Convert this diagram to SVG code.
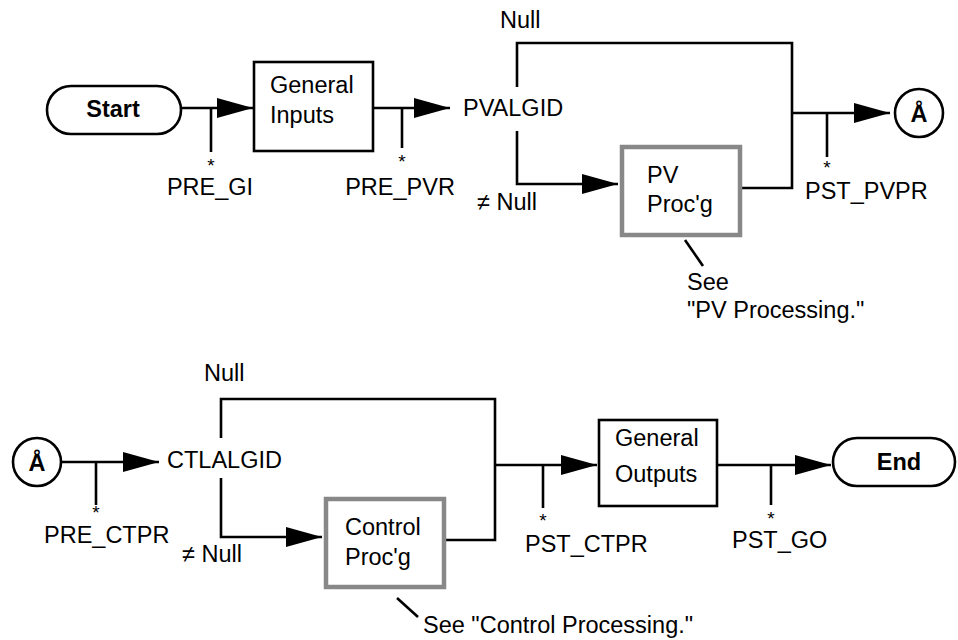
<svg xmlns="http://www.w3.org/2000/svg" width="958" height="640" viewBox="0 0 958 640">
<defs>
<style>
text{font-family:"Liberation Sans",Arial,Helvetica,sans-serif;font-size:23.5px;fill:#000}
.b{font-weight:bold}
.m{text-anchor:middle}
.ast{font-size:19px;text-anchor:middle}
.ln{fill:none;stroke:#000;stroke-width:2.6}
.box{fill:#fff;stroke:#000;stroke-width:2.6}
.gbox{fill:#fff;stroke:#888;stroke-width:4.5}
.pill{fill:#fff;stroke:#000;stroke-width:2.6}
</style>
<marker id="ah" markerUnits="userSpaceOnUse" markerWidth="37" markerHeight="22" refX="36" refY="11" orient="auto">
<path d="M0,1 L36,11 L0,21 z" fill="#000"/>
</marker>
</defs>
<rect width="958" height="640" fill="#fff"/>

<g id="connectors">
<path class="ln" d="M181,108 H253" marker-end="url(#ah)"/>
<path class="ln" d="M211,108 V152"/>
<path class="ln" d="M373,108 H450" marker-end="url(#ah)"/>
<path class="ln" d="M402,108 V148"/>
<path class="ln" d="M517,87 V43 H792 V188 H742"/>
<path class="ln" d="M517,131 V184 H618" marker-end="url(#ah)"/>
<path class="ln" d="M792,113 H890" marker-end="url(#ah)"/>
<path class="ln" d="M827,113 V157"/>
<path class="ln" d="M685,240 L703,266"/>

<path class="ln" d="M61,462 H159" marker-end="url(#ah)"/>
<path class="ln" d="M96,462 V505"/>
<path class="ln" d="M221,438 V399 H495 V540 H446"/>
<path class="ln" d="M221,478 V537 H322" marker-end="url(#ah)"/>
<path class="ln" d="M495,465 H597" marker-end="url(#ah)"/>
<path class="ln" d="M543,465 V508"/>
<path class="ln" d="M717,465 H831" marker-end="url(#ah)"/>
<path class="ln" d="M771,465 V505"/>
<path class="ln" d="M397,598 L418,617"/>
</g>

<g id="start">
<rect class="pill" x="47" y="86" width="134" height="48" rx="24"/>
<text class="b m" x="113" y="117">Start</text>
</g>
<g id="general-inputs">
<rect class="box" x="254" y="62" width="119" height="89"/>
<text x="270" y="93">General</text>
<text x="270" y="123">Inputs</text>
</g>
<g id="pvalgid">
<text x="463" y="116">PVALGID</text>
<text x="500" y="28">Null</text>
<text x="477" y="210">≠ Null</text>
</g>
<g id="pv-procg">
<rect class="gbox" x="622" y="147" width="118" height="88"/>
<text x="647" y="183">PV</text>
<text x="647" y="212">Proc'g</text>
<text x="687" y="290">See</text>
<text x="687" y="318">"PV Processing."</text>
</g>
<g id="connector-a1">
<circle class="pill" cx="919" cy="113" r="24"/>
<text class="b m" x="919" y="122">Å</text>
</g>
<g id="labels-top">
<text class="ast" x="211" y="172">*</text>
<text class="m" x="210" y="195">PRE_GI</text>
<text class="ast" x="402" y="168">*</text>
<text class="m" x="400" y="195">PRE_PVR</text>
<text class="ast" x="827" y="174">*</text>
<text x="805" y="199">PST_PVPR</text>
</g>

<g id="connector-a2">
<circle class="pill" cx="37" cy="462" r="24"/>
<text class="b m" x="37" y="471">Å</text>
</g>
<g id="ctlalgid">
<text x="167" y="468">CTLALGID</text>
<text x="204" y="381">Null</text>
<text x="182" y="562">≠ Null</text>
</g>
<g id="control-procg">
<rect class="gbox" x="326" y="499" width="118" height="88"/>
<text x="345" y="535">Control</text>
<text x="345" y="565">Proc'g</text>
<text x="423" y="633">See "Control Processing."</text>
</g>
<g id="general-outputs">
<rect class="box" x="599" y="420" width="118" height="86"/>
<text x="615" y="446">General</text>
<text x="615" y="482">Outputs</text>
</g>
<g id="end">
<rect class="pill" x="833" y="438" width="122" height="48" rx="24"/>
<text class="b m" x="899" y="470">End</text>
</g>
<g id="labels-bottom">
<text class="ast" x="96" y="519">*</text>
<text x="44" y="543">PRE_CTPR</text>
<text class="ast" x="543" y="527">*</text>
<text x="525" y="552">PST_CTPR</text>
<text class="ast" x="771" y="525">*</text>
<text x="732" y="548">PST_GO</text>
</g>
</svg>
